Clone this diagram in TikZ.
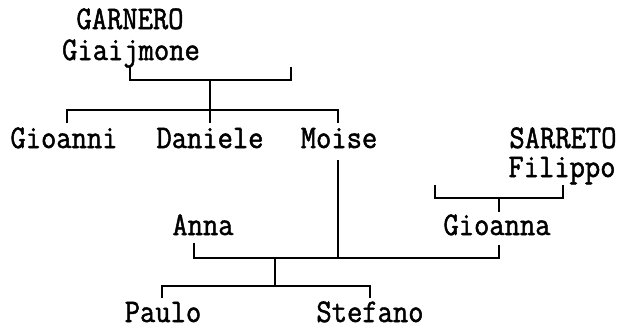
\documentclass[tikz,border=0pt]{standalone}
\usepackage{fontspec}
\newfontfamily\treefont[FakeBold=1.5,FakeStretch=0.9]{Latin Modern Mono}
\begin{document}
\begin{tikzpicture}[x=1pt,y=-1pt,
  person/.style={font=\treefont\fontsize{33}{33}\selectfont, inner sep=0pt, anchor=base,
    text height=19pt, text depth=0pt},
  link/.style={line width=2pt, line cap=butt, line join=miter}]
\useasboundingbox (0,0) rectangle (620,327);
% names
\node[person] (garnero) at (130,29) {GARNERO};
\node[person] (giaij) at (131,60) {Giaijmone};
\node[person] (gioanni) at (64,148) {Gioanni};
\node[person] (daniele) at (210,148) {Daniele};
\node[person] (moise) at (339,148) {Moise};
\node[person] (sarreto) at (563,148) {SARRETO};
\node[person] (filippo) at (562,177) {Filippo};
\node[person] (gioanna) at (497,235) {Gioanna};
\node[person] (anna) at (203,235) {Anna};
\node[person] (paulo) at (163,322) {Paulo};
\node[person] (stefano) at (370,322) {Stefano};
% connector points
\coordinate (g1) at (130,67); \coordinate (g2) at (291,67);
\coordinate (gm) at (210,80);
\coordinate (s1) at (67,123); \coordinate (s3) at (338,123);
\coordinate (sm) at (210,123);
\coordinate (mtop) at (338,160);
\coordinate (f1) at (435,185); \coordinate (f2) at (563,185);
\coordinate (fm) at (499,198); \coordinate (fb) at (499,212);
\coordinate (a1) at (194,243); \coordinate (a2) at (499,245);
\coordinate (am) at (275,258);
\coordinate (c1) at (162,298); \coordinate (c2) at (370,298);
\coordinate (cm) at (275,286);
% lines
\draw[link] (g1) |- (gm) -| (g2);
\draw[link] (gm) -- (sm);
\draw[link] (s1) |- (210,110) -| (s3);
\draw[link] (mtop) -- (338,258);
\draw[link] (f1) |- (fm) -| (f2);
\draw[link] (fm) -- (fb);
\draw[link] (a1) |- (am) -| (a2);
\draw[link] (am) -- (cm);
\draw[link] (c1) |- (cm) -| (c2);
\end{tikzpicture}
\end{document}
